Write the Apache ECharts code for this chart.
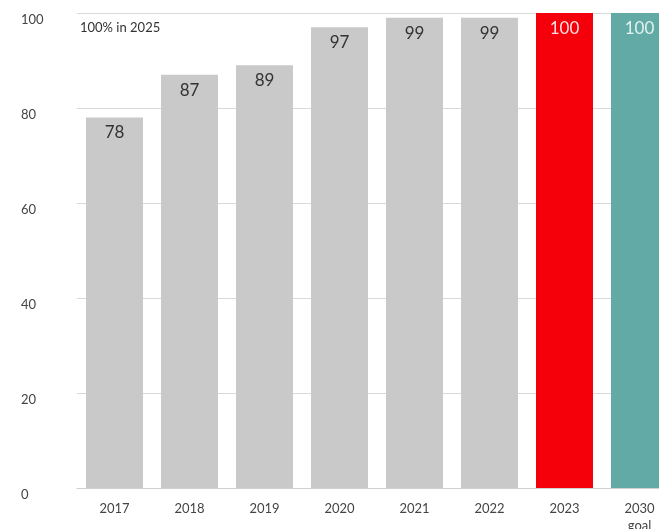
<!DOCTYPE html>
<html>
<head>
<meta charset="utf-8">
<script src="https://cdn.jsdelivr.net/npm/echarts@6/dist/echarts.min.js"></script>
<style>
  html, body { margin: 0; padding: 0; background: #fff; }
  #main { width: 659px; height: 529px; }
</style>
</head>
<body>
<div id="main"></div>
<script>
const years = ['2017', '2018', '2019', '2020', '2021', '2022', '2023', '2030\ngoal'];
const shares = [78, 87, 89, 97, 99, 99, 100, 100];
const barColors = ['#c9c9c9', '#c9c9c9', '#c9c9c9', '#c9c9c9', '#c9c9c9', '#c9c9c9', '#f5000a', '#62aaa5'];
const labelColors = ['#333', '#333', '#333', '#333', '#333', '#333', '#fde0e0', '#e4f2f0'];
const yTicks = [0, 20, 40, 60, 80, 100];

const font = 'Lato, "Open Sans", sans-serif';
const myChart = echarts.init(document.getElementById('main'));

myChart.setOption({
  animation: false,
  grid: { left: 77, top: 13, width: 600, bottom: 41, outerBoundsMode: 'none', containLabel: false },
  graphic: [{
    type: 'text',
    left: 80,
    top: 21,
    style: { text: '100% in 2025', fill: '#333', font: '13px ' + font }
  }],
  xAxis: {
    type: 'category',
    data: years,
    axisLine: { lineStyle: { color: '#cfcfcf' } },
    axisTick: { show: false },
    axisLabel: { color: '#444', fontFamily: font, fontSize: 13, margin: 12, lineHeight: 17 }
  },
  yAxis: {
    type: 'value',
    min: yTicks[0],
    max: yTicks[yTicks.length - 1],
    interval: 20,
    axisLine: { show: false },
    axisTick: { show: false },
    splitLine: { lineStyle: { color: '#d9d9d9' } },
    axisLabel: { color: '#444', fontFamily: font, fontSize: 13, align: 'left', margin: 56, verticalAlign: 'top' }
  },
  series: [{
    type: 'bar',
    barWidth: 57,
    data: shares.map((v, i) => ({
      value: v,
      itemStyle: { color: barColors[i] },
      label: { color: labelColors[i] }
    })),
    label: {
      show: true,
      position: 'insideTop',
      distance: 7,
      fontFamily: font,
      fontSize: 17
    }
  }]
});
</script>
</body>
</html>
